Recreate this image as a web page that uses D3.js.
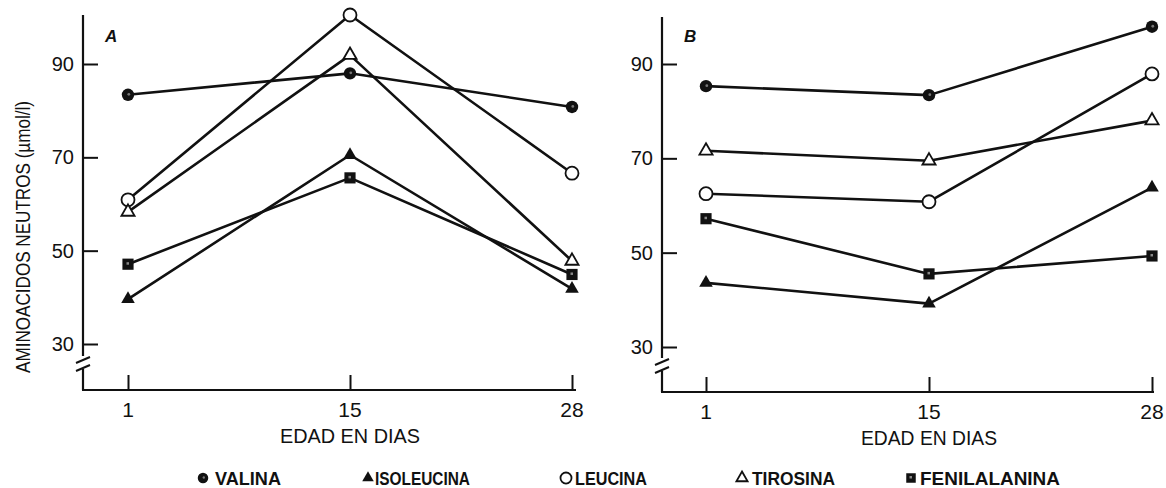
<!DOCTYPE html>
<html>
<head>
<meta charset="utf-8">
<script src="https://cdn.jsdelivr.net/npm/d3@7/dist/d3.min.js"></script>
<style>
  html, body { margin: 0; padding: 0; background: #fff; }
  svg { display: block; }
  text { fill: #111; }
</style>
</head>
<body>
<svg id="chart" width="1166" height="488"></svg>
<script>
// Edad (días) en el eje X
const dias = ["1", "15", "28"];
const yTicks = [30, 50, 70, 90];

// Panel A (µmol/l)
const valinaA       = [83.4, 88.0, 80.8];
const isoleucinaA   = [39.6, 70.5, 41.8];
const leucinaA      = [60.9, 100.5, 66.6];
const tirosinaA     = [58.3, 91.9, 47.8];
const fenilalaninaA = [47.1, 65.6, 44.9];

// Panel B (µmol/l)
const valinaB       = [85.3, 83.4, 97.9];
const isoleucinaB   = [43.6, 39.2, 63.8];
const leucinaB      = [62.5, 60.8, 87.9];
const tirosinaB     = [71.6, 69.5, 78.0];
const fenilalaninaB = [57.2, 45.5, 49.3];

const aminoacidos = ["VALINA", "ISOLEUCINA", "LEUCINA", "TIROSINA", "FENILALANINA"];

const svg = d3.select("#chart");
const INK = "#111";
const SANS = "'Liberation Sans', Arial, sans-serif";

// marker drawing for each amino acid
function drawMarker(g, name, x, y, scale = 1) {
  const m = g.append("g").attr("transform", `translate(${x},${y})`);
  if (name === "VALINA") {
    m.append("circle").attr("r", 6.2 * scale).attr("fill", INK);
    m.append("circle").attr("r", 1.4 * scale).attr("cx", 0.8).attr("cy", -0.5).attr("fill", "#777");
  } else if (name === "ISOLEUCINA") {
    m.append("path").attr("d", d3.symbol(d3.symbolTriangle, 80 * scale * scale)()).attr("fill", INK);
  } else if (name === "LEUCINA") {
    m.append("circle").attr("r", 6.5 * scale).attr("fill", "#fff").attr("stroke", INK).attr("stroke-width", 1.8);
  } else if (name === "TIROSINA") {
    m.append("path").attr("d", d3.symbol(d3.symbolTriangle, 75 * scale * scale)()).attr("fill", "#fff").attr("stroke", INK).attr("stroke-width", 1.8);
  } else if (name === "FENILALANINA") {
    m.append("path").attr("d", d3.symbol(d3.symbolSquare, 125 * scale * scale)()).attr("fill", INK);
    m.append("rect").attr("x", -1.5).attr("y", -2).attr("width", 2.5).attr("height", 2.5).attr("fill", "#888");
  }
}

function panel(cfg) {
  const g = svg.append("g");
  const x = d3.scalePoint().domain(dias).range(cfg.xRange);
  const y = d3.scaleLinear().domain([30, 90]).range(cfg.yRange);

  // y axis line with a break near the bottom
  g.append("line").attr("x1", cfg.axisX).attr("x2", cfg.axisX)
    .attr("y1", cfg.top).attr("y2", cfg.breakY - 8)
    .attr("stroke", INK).attr("stroke-width", 2.2);
  g.append("line").attr("x1", cfg.axisX).attr("x2", cfg.axisX)
    .attr("y1", cfg.breakY + 5).attr("y2", cfg.base)
    .attr("stroke", INK).attr("stroke-width", 2.2);
  [-4, 4].forEach(d => {
    g.append("line")
      .attr("x1", cfg.axisX - 7).attr("y1", cfg.breakY + d + 3)
      .attr("x2", cfg.axisX + 7).attr("y2", cfg.breakY + d - 3)
      .attr("stroke", INK).attr("stroke-width", 2);
  });

  // y ticks (inward) and labels
  const yAxis = d3.axisRight(y).tickValues(yTicks).tickSize(15).tickFormat("");
  const ya = g.append("g").attr("transform", `translate(${cfg.axisX},0)`).call(yAxis);
  ya.select(".domain").remove();
  ya.selectAll(".tick line").attr("stroke", INK).attr("stroke-width", 2);
  g.selectAll(".ylab").data(yTicks).join("text")
    .attr("x", cfg.axisX - 9).attr("y", d => y(d) + 7)
    .attr("text-anchor", "end")
    .attr("font-family", SANS)
    .attr("font-size", 20)
    .text(d => d);

  // x baseline with upward ticks
  g.append("line").attr("x1", cfg.axisX - 1).attr("x2", cfg.baseEnd)
    .attr("y1", cfg.base).attr("y2", cfg.base)
    .attr("stroke", INK).attr("stroke-width", 2.2);
  const xAxis = d3.axisTop(x).tickSize(15).tickFormat("");
  const xa = g.append("g").attr("transform", `translate(0,${cfg.base})`).call(xAxis);
  xa.select(".domain").remove();
  xa.selectAll(".tick line").attr("stroke", INK).attr("stroke-width", 2);
  g.selectAll(".xlab").data(dias).join("text")
    .attr("x", d => x(d)).attr("y", cfg.base + 27)
    .attr("text-anchor", "middle")
    .attr("font-family", SANS)
    .attr("font-size", 21)
    .text(d => d);
  g.append("text")
    .attr("x", (cfg.xRange[0] + cfg.xRange[1]) / 2).attr("y", cfg.base + 53)
    .attr("text-anchor", "middle")
    .attr("font-family", SANS)
    .attr("font-size", 20)
    .attr("textLength", cfg.titleLen).attr("lengthAdjust", "spacingAndGlyphs")
    .text("EDAD EN DIAS");

  // panel letter
  g.append("text").attr("x", cfg.axisX + 22).attr("y", 42)
    .attr("font-family", SANS)
    .attr("font-size", 17).attr("font-weight", "bold").attr("font-style", "italic")
    .text(cfg.letter);

  // series lines then markers
  const line = d3.line().x((d, i) => x(dias[i])).y(d => y(d));
  cfg.series.forEach(([name, vals]) => {
    g.append("path").attr("d", line(vals))
      .attr("fill", "none").attr("stroke", INK).attr("stroke-width", 2.6)
      .attr("stroke-linejoin", "round");
  });
  cfg.series.forEach(([name, vals]) => {
    vals.forEach((v, i) => drawMarker(g, name, x(dias[i]), y(v)));
  });
}

panel({
  letter: "A", axisX: 83, top: 15, base: 390, breakY: 364, baseEnd: 576,
  xRange: [128, 572], yRange: [344, 64], titleLen: 140,
  series: [["VALINA", valinaA], ["ISOLEUCINA", isoleucinaA], ["LEUCINA", leucinaA],
           ["TIROSINA", tirosinaA], ["FENILALANINA", fenilalaninaA]]
});
panel({
  letter: "B", axisX: 662, top: 17, base: 392, breakY: 366, baseEnd: 1154,
  xRange: [706, 1152], yRange: [347, 64], titleLen: 136,
  series: [["VALINA", valinaB], ["ISOLEUCINA", isoleucinaB], ["LEUCINA", leucinaB],
           ["TIROSINA", tirosinaB], ["FENILALANINA", fenilalaninaB]]
});

// shared y-axis title
svg.append("text")
  .attr("transform", "translate(30,237) rotate(-90)")
  .attr("text-anchor", "middle")
  .attr("font-family", SANS)
  .attr("font-size", 21)
  .attr("textLength", 272).attr("lengthAdjust", "spacingAndGlyphs")
  .text("AMINOACIDOS NEUTROS (µmol/l)");

// legend: marker x, text start and text width
const legendMarkX = [203, 368, 566, 742, 911];
const legendTextX = [215, 375, 575, 752, 920];
const legendTextW = [66, 95, 72, 83, 140];
const lg = svg.append("g");
aminoacidos.forEach((name, i) => {
  drawMarker(lg, name, legendMarkX[i], 478, 0.85);
  lg.append("text")
    .attr("x", legendTextX[i])
    .attr("y", 485)
    .attr("font-family", SANS)
    .attr("font-size", 19)
    .attr("font-weight", "bold")
    .attr("textLength", legendTextW[i]).attr("lengthAdjust", "spacingAndGlyphs")
    .text(name);
});
</script>
</body>
</html>
